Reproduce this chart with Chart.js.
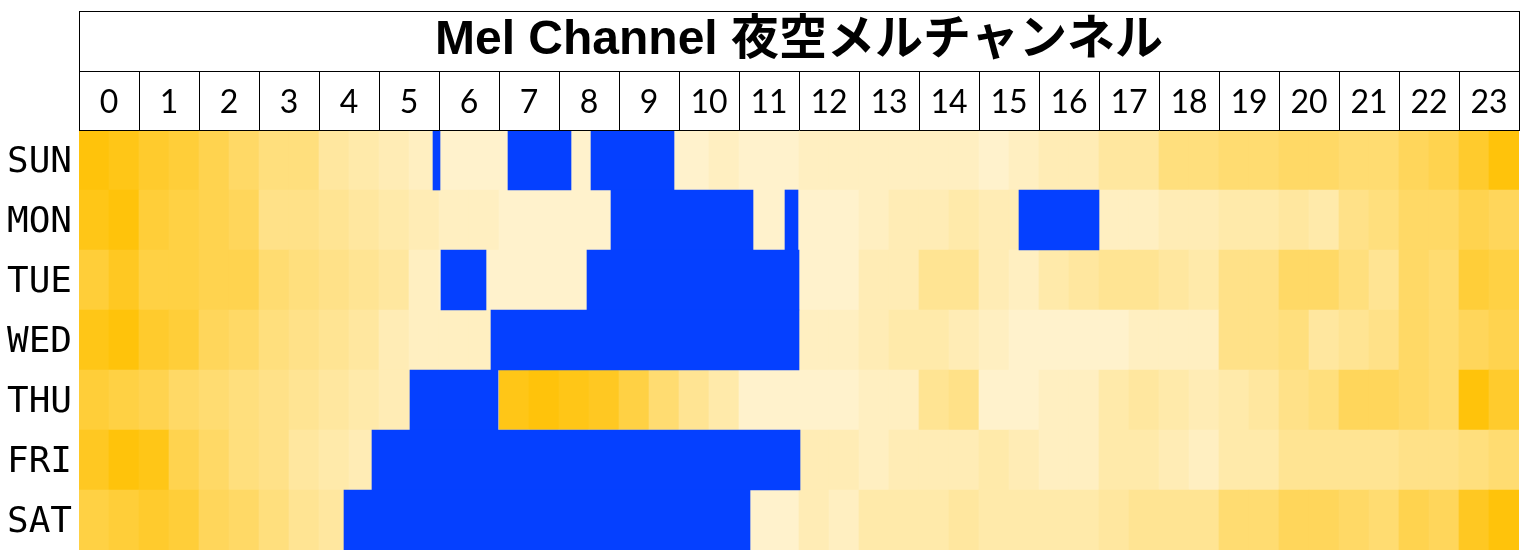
<!DOCTYPE html>
<html>
<head>
<meta charset="utf-8">
<script src="https://cdn.jsdelivr.net/npm/chart.js@4.4.1/dist/chart.umd.min.js"></script>
<style>
  html, body { margin: 0; padding: 0; background: #ffffff; }
  #wrap { width: 1530px; height: 560px; }
</style>
</head>
<body>
<div id="wrap"><canvas id="c" width="1530" height="560"></canvas></div>
<script>
// ---- data ----
const days = ['SUN', 'MON', 'TUE', 'WED', 'THU', 'FRI', 'SAT'];
const hours = ['0','1','2','3','4','5','6','7','8','9','10','11','12','13','14','15','16','17','18','19','20','21','22','23'];
const titleText = 'Mel Channel 夜空メルチャンネル';
const slotMinutes = 30;

// activity intensity per half hour (1 = lightest, 10 = strongest)
const heatSUN = [9.5,9, 8,7.5, 6.5,5.5, 4.5,4.5, 3,2.5, 2,1.5, 1,1, 1,1, 1,1, 1,1, 1,1.5, 1,1, 1.5,1.5, 1.5,1.5, 1.5,1.5, 1,1.5, 2,2, 3,3, 4.5,4.5, 5,5, 5.5,5.5, 5,5, 6,6.5, 8,9.5];
const heatMON = [9,9.5, 7.5,7, 6.5,6, 4,4, 3.5,3, 2.5,2, 1.5,1.5, 1,1, 1,1, 1,1, 1,1, 1,1, 1,1, 1.5,2, 2,2.5, 2,2, 2,2, 1.5,1.5, 2,2, 2.5,2.5, 3,2.5, 4,4.5, 5.5,5.5, 6.5,6];
const heatTUE = [7.5,8.5, 7,7, 6.5,6.5, 5,4.5, 4,3.5, 3,1.5, 1,1, 1,1, 1,1, 1,1, 1,1, 1,1, 1,1, 2,2, 3.5,3.5, 2,1.5, 2.5,3, 3.5,3.5, 3,2.5, 4,4, 5.5,5.5, 4.5,3.5, 5.5,5, 7.5,7];
const heatWED = [9,9.5, 8,7.5, 6,5.5, 4.5,4, 3.5,3, 2,1.5, 1.5,1.5, 1,1, 1,1, 1,1, 1,1, 1,1, 1.5,1.5, 2,2.5, 2.5,2, 1.5,1, 1,1, 1,1.5, 1.5,1.5, 4,4, 4.5,3, 3.5,4, 5.5,5, 6,6.5];
const heatTHU = [7.5,7, 6.5,5.5, 5,4.5, 4,3.5, 3,2.5, 2,2, 1,1, 9,9.5, 9,8.5, 7,5, 3.5,2.5, 1,1, 1,1, 1.5,1.5, 3.5,4, 1,1, 1.5,1.5, 2.5,3, 2.5,2, 2.5,3, 4,4.5, 6,6, 5.5,5, 9.5,8];
const heatFRI = [8.5,9.5, 9,6.5, 5.5,4.5, 4,3, 2.5,2, 1.5,1, 1,1, 1,1, 1,1, 1,1, 1,1, 1,1, 2,2, 1.5,2, 2,2, 2.5,2, 1.5,1.5, 2.5,2.5, 2,1.5, 2.5,2.5, 3.5,3.5, 3.5,3.5, 4,4, 4.5,5];
const heatSAT = [7,7.5, 8,7.5, 6,5.5, 4.5,3.5, 3,1.5, 1,1, 1,1, 1,1, 1,1, 1,1, 1,1, 1,1, 2,1.5, 2.5,2.5, 2.5,3, 2.5,2.5, 2.5,2.5, 3,3.5, 3.5,3.5, 5,5, 6,6, 5.5,5, 6.5,6, 8.5,9.5];

// stream slots [start minute, end minute]
const streamsSUN = [[354,361],[429,492],[512,595]];
const streamsMON = [[532,674],[706,719],[940,1020]];
const streamsTUE = [[362,407],[508,720]];
const streamsWED = [[412,720]];
const streamsTHU = [[331,419]];
const streamsFRI = [[293,721]];
const streamsSAT = [[265,671]];

const heatRows = [heatSUN, heatMON, heatTUE, heatWED, heatTHU, heatFRI, heatSAT];
const streamRows = [streamsSUN, streamsMON, streamsTUE, streamsWED, streamsTHU, streamsFRI, streamsSAT];

function heatColor(v) {
  const t = Math.max(0, Math.min(1, (v - 1) / 9));
  const g = Math.round(242 - 50 * t);
  const b = Math.round(204 - 204 * t);
  return 'rgb(255,' + g + ',' + b + ')';
}

const heatData = [];
days.forEach((d, i) => heatRows[i].forEach((v, j) => {
  heatData.push({ y: d, x: [j * slotMinutes, (j + 1) * slotMinutes], v: v });
}));
const streamData = [];
days.forEach((d, i) => streamRows[i].forEach(s => {
  streamData.push({ y: d, x: [s[0], s[1]] });
}));

const boxPlugin = {
  id: 'titleBox',
  afterDraw(chart) {
    const ctx = chart.ctx;
    const a = chart.chartArea;
    const t = chart.titleBlock;
    ctx.save();
    ctx.strokeStyle = '#000';
    ctx.lineWidth = 1;
    ctx.strokeRect(a.left + 0.5, t.top + 0.5, a.right - a.left, t.bottom - t.top);
    ctx.restore();
  }
};

new Chart(document.getElementById('c'), {
  type: 'bar',
  data: {
    labels: days,
    datasets: [
      {
        label: 'stream',
        data: streamData,
        backgroundColor: '#0540FF',
        borderWidth: 0,
        grouped: false,
        categoryPercentage: 1,
        barPercentage: 1,
        order: 0
      },
      {
        label: 'heat',
        data: heatData,
        backgroundColor: (ctx) => heatColor(ctx.raw ? ctx.raw.v : 1),
        borderWidth: 0,
        grouped: false,
        categoryPercentage: 1,
        barPercentage: 1,
        order: 1
      }
    ]
  },
  options: {
    indexAxis: 'y',
    responsive: false,
    animation: false,
    events: [],
    devicePixelRatio: 1,
    layout: { padding: { top: 11, left: 0, right: 11, bottom: 10 } },
    plugins: {
      legend: { display: false },
      tooltip: { enabled: false },
      title: {
        display: true,
        text: titleText,
        fullSize: false,
        color: '#000',
        font: { family: "'Liberation Sans', 'Noto Sans CJK JP', sans-serif", size: 48, weight: 'bold', lineHeight: 1 },
        padding: { top: 6, bottom: 6 }
      }
    },
    scales: {
      x: {
        type: 'linear',
        min: 0,
        max: 1440,
        display: false
      },
      xTop: {
        type: 'category',
        labels: hours,
        position: 'top',
        offset: true,
        grid: { offset: true, drawOnChartArea: false, drawTicks: true, tickLength: 59, color: '#000', lineWidth: 1 },
        border: { display: true, color: '#000', width: 1, z: 1 },
        ticks: { color: '#000', padding: -51, autoSkip: false, maxRotation: 0, minRotation: 0,
                 font: { family: "Lato, 'Open Sans', sans-serif", size: 32 } },
        afterFit(scale) { scale.height = 59; scale.paddingLeft = 0; scale.paddingRight = 0; }
      },
      y: {
        type: 'category',
        labels: days,
        offset: true,
        grid: { display: false, drawTicks: false },
        border: { display: false },
        ticks: { color: '#000', padding: 7, labelOffset: 3, font: { family: "'DejaVu Sans Mono', monospace", size: 36 } },
        afterFit(scale) { scale.width = 79; scale.paddingTop = 0; scale.paddingBottom = 0; }
      }
    }
  },
  plugins: [boxPlugin]
});
</script>
</body>
</html>
